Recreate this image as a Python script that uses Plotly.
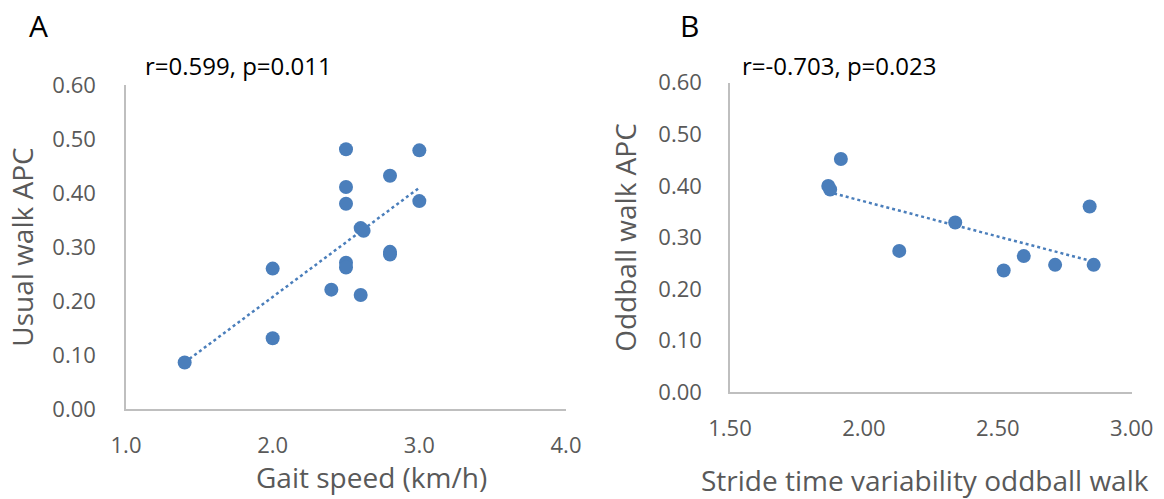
import numpy as np
import plotly.graph_objects as go

# Panel A: gait speed vs usual walk APC
gait_speed = [1.4, 2.0, 2.0, 2.4, 2.5, 2.5, 2.5, 2.5, 2.5, 2.6, 2.62, 2.6, 2.8, 2.8, 2.8, 3.0, 3.0]
usual_apc = [0.086, 0.131, 0.260, 0.221, 0.481, 0.411, 0.380, 0.271, 0.262, 0.335, 0.330, 0.211,
             0.432, 0.291, 0.286, 0.479, 0.385]

# Panel B: stride time variability (oddball walk) vs oddball walk APC
stride_var = [1.867, 1.874, 1.914, 2.132, 2.341, 2.522, 2.597, 2.714, 2.843, 2.858]
oddball_apc = [0.400, 0.393, 0.452, 0.274, 0.329, 0.236, 0.264, 0.247, 0.360, 0.247]

stats_a = "r=0.599, p=0.011"
stats_b = "r=-0.703, p=0.023"
xtitle_a = "Gait speed (km/h)"
xtitle_b = "Stride time variability oddball walk"

y_ticks = [0.0, 0.1, 0.2, 0.3, 0.4, 0.5, 0.6]
xa_ticks = [1.0, 2.0, 3.0, 4.0]
xb_ticks = [1.5, 2.0, 2.5, 3.0]

BLUE = "#4a7ebb"
GREY_TXT = "#595959"
AXIS_LINE = "#bfbfbf"
FONT = "Open Sans"
W, H = 1164, 499


def trend(x, y):
    slope, intercept = np.polyfit(x, y, 1)
    xs = np.array([min(x), max(x)])
    return xs, slope * xs + intercept


fig = go.Figure()

for xs, ys, xa, ya in [(gait_speed, usual_apc, "x", "y"), (stride_var, oddball_apc, "x2", "y2")]:
    tx, ty = trend(xs, ys)
    fig.add_trace(go.Scatter(x=tx, y=ty, mode="lines", xaxis=xa, yaxis=ya,
                             line=dict(color=BLUE, width=2.5, dash="dot"),
                             showlegend=False, hoverinfo="skip"))
    fig.add_trace(go.Scatter(x=xs, y=ys, mode="markers", xaxis=xa, yaxis=ya,
                             marker=dict(color=BLUE, size=14, line=dict(width=0)),
                             showlegend=False))

axis_common = dict(showgrid=False, zeroline=False, showline=True, linecolor=AXIS_LINE,
                   linewidth=1.5, ticks="", automargin=False,
                   tickfont=dict(family=FONT, size=22, color=GREY_TXT),
                   title_font=dict(family=FONT, size=28, color=GREY_TXT), fixedrange=True)

fig.update_layout(
    width=W, height=H,
    margin=dict(l=0, r=0, t=0, b=0),
    paper_bgcolor="white", plot_bgcolor="white",
    font=dict(family=FONT),
    xaxis=dict(domain=[126 / W, 566 / W], range=[1.0, 4.0], tickvals=xa_ticks,
               ticktext=[f"{v:.1f}" for v in xa_ticks], anchor="y",
               ticklabelstandoff=16, **axis_common),
    yaxis=dict(domain=[1 - 409 / H, 1 - 85 / H], range=[0, 0.6], tickvals=y_ticks,
               ticktext=[f"{v:.2f}" for v in y_ticks], anchor="x",
               title=dict(text="Usual walk APC", standoff=11), ticklabelstandoff=24,
               **axis_common),
    xaxis2=dict(domain=[730 / W, 1131.7 / W], range=[1.5, 3.0], tickvals=xb_ticks,
                ticktext=[f"{v:.2f}" for v in xb_ticks], anchor="y2",
                ticklabelstandoff=16, **axis_common),
    yaxis2=dict(domain=[1 - 392.3 / H, 1 - 82.7 / H], range=[0, 0.6], tickvals=y_ticks,
                ticktext=[f"{v:.2f}" for v in y_ticks], anchor="x2",
                title=dict(text="Oddball walk APC", standoff=14), ticklabelstandoff=22,
                **axis_common),
)

# Panel letters and statistics, placed in pixel terms
labels = [("A", 27, 25, 30, "left"), ("B", 678, 25, 30, "left"),
          (stats_a, 143, 65, 24, "left"), (stats_b, 740, 65, 24, "left")]
for text, px, py, size, anchor in labels:
    fig.add_annotation(text=text, x=px / W, y=1 - py / H, xref="paper", yref="paper",
                       xanchor=anchor, yanchor="middle", showarrow=False,
                       font=dict(family=FONT, size=size, color="black"))

# x-axis titles
for text, px, py in [(xtitle_a, 371, 477), (xtitle_b, 925, 480)]:
    fig.add_annotation(text=text, x=px / W, y=1 - py / H, xref="paper", yref="paper",
                       xanchor="center", yanchor="middle", showarrow=False,
                       font=dict(family=FONT, size=28, color=GREY_TXT))

fig.write_html("out.html")
